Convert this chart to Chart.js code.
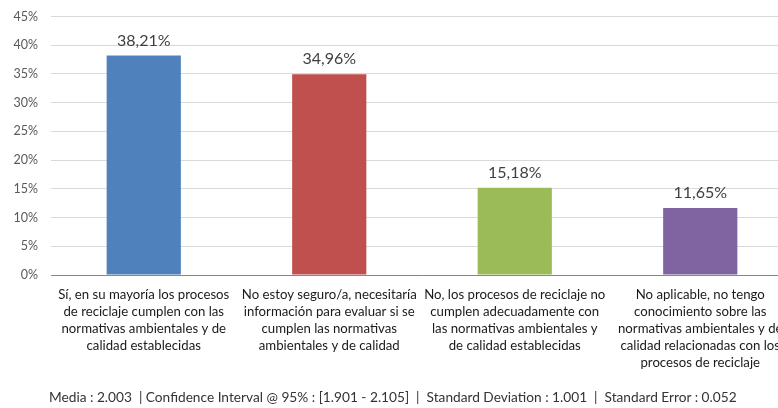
<!DOCTYPE html>
<html>
<head>
<meta charset="utf-8">
<script src="https://cdn.jsdelivr.net/npm/chart.js@4/dist/chart.umd.min.js"></script>
<style>
  html, body { margin: 0; padding: 0; background: #fff; overflow: hidden; }
  #wrap { position: relative; width: 778px; height: 408px; overflow: hidden; }
  #box { position: absolute; left: 0; top: -4px; width: 810px; height: 412px; }
  #stats { position: absolute; left: 49px; top: 388px; font: 13.7px Lato, sans-serif; color: #333; white-space: pre; }
</style>
</head>
<body>
<div id="wrap">
  <div id="box"><canvas id="chart"></canvas></div>
  <div id="stats">Media : 2.003  | Confidence Interval @ 95% : [1.901 - 2.105]  |  Standard Deviation : 1.001  |  Standard Error : 0.052</div>
</div>
<script>
// answers (wrapped like the original axis labels)
var categories = [
  ["Sí, en su mayoría los procesos", "de reciclaje cumplen con las", "normativas ambientales y de", "calidad establecidas"],
  ["No estoy seguro/a, necesitaría", "información para evaluar si se", "cumplen las normativas", "ambientales y de calidad"],
  ["No, los procesos de reciclaje no", "cumplen adecuadamente con", "las normativas ambientales y", "de calidad establecidas"],
  ["No aplicable, no tengo", "conocimiento sobre las", "normativas ambientales y de", "calidad relacionadas con los", "procesos de reciclaje"]
];
var percents = [38.21, 34.96, 15.18, 11.65];
var barColors = ["#4F81BD", "#C0504D", "#9BBB59", "#8064A2"];

// value labels above each bar, with decimal comma
var valueLabels = {
  id: "valueLabels",
  afterDatasetsDraw: function(chart) {
    var ctx = chart.ctx;
    var meta = chart.getDatasetMeta(0);
    ctx.save();
    ctx.font = "16px Lato, sans-serif";
    ctx.fillStyle = "#404040";
    ctx.textAlign = "center";
    ctx.textBaseline = "bottom";
    meta.data.forEach(function(bar, i) {
      var txt = percents[i].toFixed(2).replace(".", ",") + "%";
      ctx.fillText(txt, bar.x, bar.y - 7);
    });
    ctx.restore();
  }
};

new Chart(document.getElementById("chart"), {
  type: "bar",
  data: {
    labels: categories,
    datasets: [{
      data: percents,
      backgroundColor: barColors,
      borderWidth: 0,
      barPercentage: 0.4,
      categoryPercentage: 1
    }]
  },
  options: {
    responsive: true,
    maintainAspectRatio: false,
    animation: false,
    layout: { padding: { top: 8, right: 17, left: 0, bottom: 0 } },
    plugins: {
      legend: { display: false },
      tooltip: { enabled: false }
    },
    scales: {
      x: {
        grid: { display: false, drawTicks: false },
        border: { color: "#868686", width: 1 },
        ticks: {
          autoSkip: false,
          maxRotation: 0,
          padding: 11,
          color: "#1a1a1a",
          font: { family: "Lato, sans-serif", size: 13.2, lineHeight: 1.29 }
        },
        afterFit: function(scale) { scale.height = 133; }
      },
      y: {
        min: 0,
        max: 45,
        grid: { color: "#d9d9d9", drawTicks: false },
        border: { display: false },
        ticks: {
          stepSize: 5,
          padding: 13,
          color: "#595959",
          font: { family: "Lato, sans-serif", size: 12.5 },
          callback: function(v) { return v + "%"; }
        },
        afterFit: function(scale) { scale.width = 51; }
      }
    }
  },
  plugins: [valueLabels]
});
</script>
</body>
</html>
